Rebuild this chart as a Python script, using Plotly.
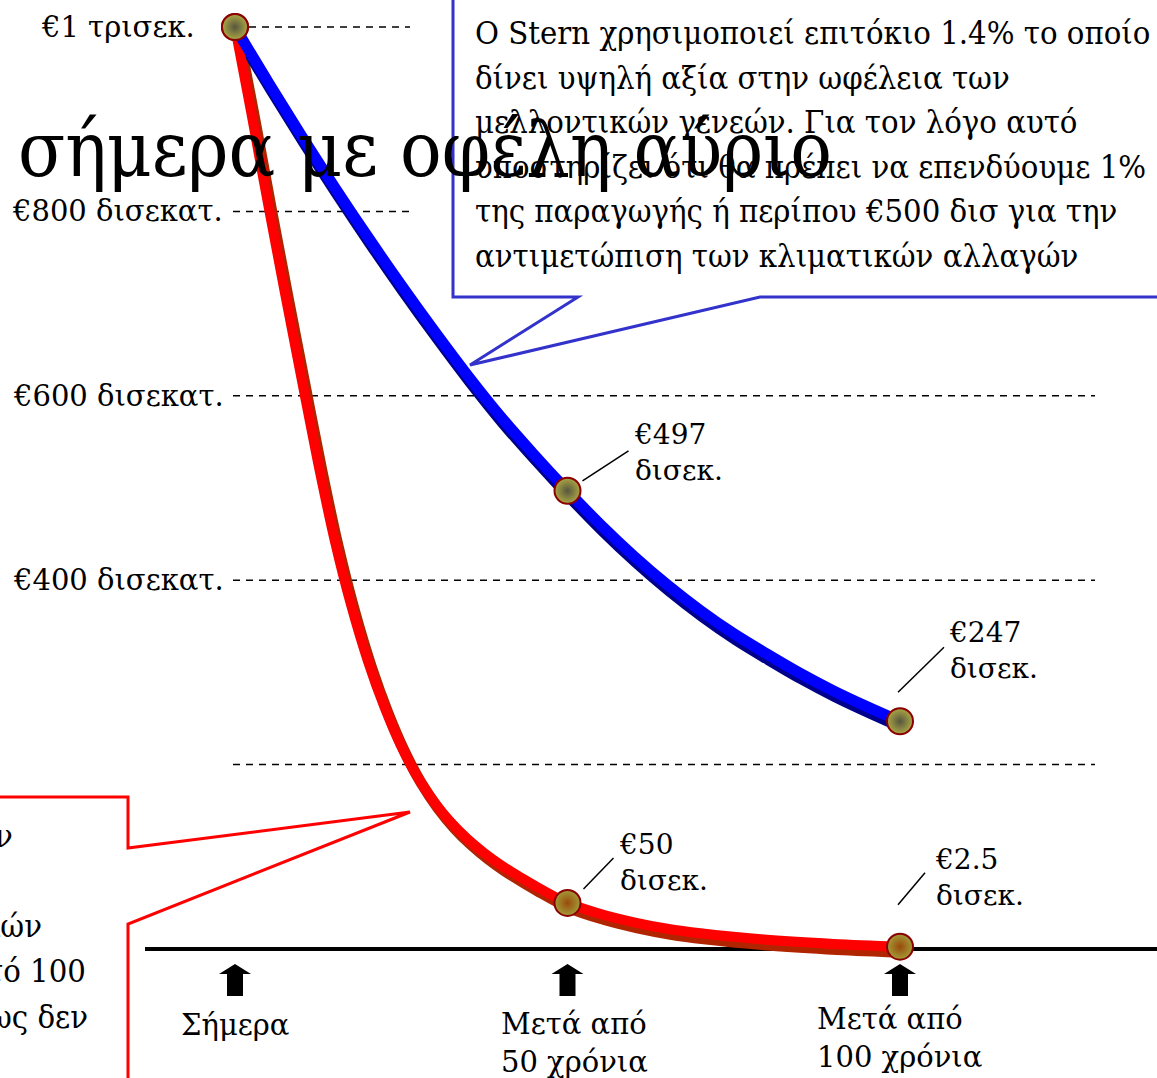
import plotly.graph_objects as go

# ---------------- DATA ----------------
years_blue = [0, 5, 10, 15, 20, 25, 30, 35, 40, 45, 50, 55, 60, 65, 70, 75, 80, 85, 90, 95, 100]
value_blue = [1000, 940, 882, 826, 772, 720, 670, 622, 577, 536, 497, 460, 426, 395, 367, 342, 320, 299, 280, 263, 247]

years_red = [0, 2.5, 5, 7.5, 10, 12.5, 15, 17.5, 20, 22.5, 25, 27.5, 30, 32.5, 35, 37.5, 40, 45, 50,
             55, 60, 65, 70, 80, 90, 100]
value_red = [1000, 905, 807, 712, 619, 527, 443, 372, 312, 262, 220, 186, 159, 137, 119, 104, 91, 69, 50,
             38, 29, 22, 17, 10, 5.5, 2.5]

point_years = [0, 50, 100]
point_blue = [1000, 497, 247]
point_red = [1000, 50, 2.5]
label_blue = ["", "€497<br>δισεκ.", "€247<br>δισεκ."]
label_red = ["", "€50<br>δισεκ.", "€2.5<br>δισεκ."]

y_tick_vals = [1000, 800, 600, 400, 200]
y_tick_text = ["€1 τρισεκ.", "€800 δισεκατ.", "€600 δισεκατ.", "€400 δισεκατ.", ""]
x_tick_vals = [0, 50, 100]
x_tick_text = ["Σήμερα", "Μετά από<br>50 χρόνια", "Μετά από<br>100 χρόνια"]

title_text = "σήμερα με οφέλη αύριο"
stern_lines = [
    "Ο Stern χρησιμοποιεί επιτόκιο 1.4% το οποίο",
    "δίνει υψηλή αξία στην ωφέλεια των",
    "μελλοντικών γενεών. Για τον λόγο αυτό",
    "υποστηρίζει ότι θα πρέπει να επενδύουμε 1%",
    "της παραγωγής ή περίπου €500 δισ για την",
    "αντιμετώπιση των κλιματικών αλλαγών",
]
red_note_lines = ["ν", "κών", "τό 100", "ως δεν"]

# ---------------- LAYOUT / STYLE ----------------
W, H = 1157, 1078
X0_PX, X_PX_PER = 235, 6.65      # pixel of year 0, pixels per year
Y0_PX, Y_PX_PER = 949, 0.922     # pixel of value 0, pixels per unit

def px(x):
    return x / W

def py(y):
    return 1 - y / H

SERIF_LABEL = "DejaVu Serif"
TIMES = "DejaVu Serif Condensed, DejaVu Serif, serif"

fig = go.Figure()

# shadows
fig.add_trace(go.Scatter(x=[t + 0.5 for t in years_red], y=[v - 6 for v in value_red],
                         mode="lines", line=dict(color="#b02400", width=11, shape="spline", smoothing=1),
                         hoverinfo="skip", showlegend=False))
fig.add_trace(go.Scatter(x=[t + 0.3 for t in years_blue], y=[v - 6 for v in value_blue],
                         mode="lines", line=dict(color="#00008c", width=12, shape="spline", smoothing=1),
                         hoverinfo="skip", showlegend=False))
# main lines
fig.add_trace(go.Scatter(x=years_red, y=value_red, mode="lines",
                         line=dict(color="#ff0000", width=10, shape="spline", smoothing=1),
                         hoverinfo="skip", showlegend=False))
fig.add_trace(go.Scatter(x=years_blue, y=value_blue, mode="lines",
                         line=dict(color="#0000ff", width=11, shape="spline", smoothing=1),
                         hoverinfo="skip", showlegend=False))
# markers
fig.add_trace(go.Scatter(x=point_years, y=point_red, mode="markers",
                         marker=dict(size=26, color="#a29c38",
                                     gradient=dict(type="radial", color="#9a4a0c"),
                                     line=dict(color="#8b0000", width=2)),
                         hoverinfo="skip", showlegend=False))
fig.add_trace(go.Scatter(x=point_years, y=point_blue, mode="markers",
                         marker=dict(size=26, color="#aca644",
                                     gradient=dict(type="radial", color="#56563e"),
                                     line=dict(color="#8b0000", width=2)),
                         hoverinfo="skip", showlegend=False))

shapes = []
annotations = []

# dashed guide lines + value labels
grid_start_px = [249, 233, 233, 233, 233]
grid_end_px = [410, 410, 1095, 1095, 1095]
label_right_px = [197, 225, 226, 226, 226]
for v, t, gs, ge, lr in zip(y_tick_vals, y_tick_text, grid_start_px, grid_end_px, label_right_px):
    shapes.append(dict(type="line", xref="paper", yref="y", x0=px(gs), x1=px(ge), y0=v, y1=v,
                       line=dict(color="black", width=1.5, dash="7px,6px"), layer="below"))
    if t:
        annotations.append(dict(xref="paper", yref="y", x=px(lr), y=v, text=t, showarrow=False,
                                xanchor="right", yanchor="middle",
                                font=dict(family=SERIF_LABEL, size=29, color="black")))

# baseline
shapes.append(dict(type="line", xref="paper", yref="y", x0=px(145), x1=1, y0=0, y1=0,
                   line=dict(color="black", width=4), layer="below"))

# tick arrows and labels
arrow_path = "M 0,-15 L 16,-25 L 8,-25 L 8,-47 L -8,-47 L -8,-25 L -16,-25 Z"
tick_xshift = [0, -69, -85]
tick_yshift = [-76, -94, -89]
tick_anchor = ["center", "left", "left"]
for xv, txt, xs, ys, an in zip(x_tick_vals, x_tick_text, tick_xshift, tick_yshift, tick_anchor):
    shapes.append(dict(type="path", xref="x", yref="y", xsizemode="pixel", ysizemode="pixel",
                       xanchor=xv, yanchor=0, path=arrow_path, fillcolor="black",
                       line=dict(width=0)))
    annotations.append(dict(xref="x", yref="y", x=xv, y=0, text=txt, showarrow=False,
                            xanchor=an, yanchor="middle", align="left", xshift=xs, yshift=ys,
                            font=dict(family=SERIF_LABEL, size=29, color="black")))

# point labels with leader lines
lab_xshift_blue = [0, 64, 47]
lab_yshift_blue = [0, 38, 71]
lead_blue = [None, (15, 10, 61, 40), (-2, 29, 44, 74)]
lab_xshift_red = [0, 49, 33]
lab_yshift_red = [0, 40, 69]
lead_red = [None, (16, 14, 46, 45), (-2, 42, 25, 74)]
for xs_l, ys_l, leads, vals, labs in [(lab_xshift_blue, lab_yshift_blue, lead_blue, point_blue, label_blue),
                                      (lab_xshift_red, lab_yshift_red, lead_red, point_red, label_red)]:
    for xv, v, lab, xs, ys, ld in zip(point_years, vals, labs, xs_l, ys_l, leads):
        if not lab:
            continue
        annotations.append(dict(xref="x", yref="y", x=xv, y=v, text=lab, showarrow=False,
                                xanchor="left", yanchor="middle", align="left", xshift=xs, yshift=ys,
                                font=dict(family=SERIF_LABEL, size=28, color="black")))
        shapes.append(dict(type="line", xref="x", yref="y", xsizemode="pixel", ysizemode="pixel",
                           xanchor=xv, yanchor=v, x0=ld[0], y0=ld[1], x1=ld[2], y1=ld[3],
                           line=dict(color="black", width=1.5)))

# Stern callout (blue)
blue_box = [(453, -10), (453, 297), (578, 297), (470, 365), (760, 297), (1170, 297)]
shapes.append(dict(type="path", xref="paper", yref="paper",
                   path="M " + " L ".join(f"{px(a):.5f},{py(b):.5f}" for a, b in blue_box),
                   line=dict(color="#3333cc", width=3), fillcolor="rgba(0,0,0,0)"))
for i, line in enumerate(stern_lines):
    annotations.append(dict(xref="paper", yref="paper", x=px(473), y=py(33 + 44.6 * i), text=line,
                            showarrow=False, xanchor="left", yanchor="middle", align="left",
                            font=dict(family=TIMES, size=32.5, color="black")))

# red callout (cut at left edge)
red_box = [(-10, 797), (128, 797), (128, 848), (410, 812), (128, 924), (128, 1090)]
shapes.append(dict(type="path", xref="paper", yref="paper",
                   path="M " + " L ".join(f"{px(a):.5f},{py(b):.5f}" for a, b in red_box),
                   line=dict(color="#ff0000", width=3), fillcolor="rgba(0,0,0,0)"))
red_right_px = [15, 44, 88, 90]
red_center_px = [836, 926, 971, 1017]
for txt, rx, cy in zip(red_note_lines, red_right_px, red_center_px):
    annotations.append(dict(xref="paper", yref="paper", x=px(rx), y=py(cy), text=txt, showarrow=False,
                            xanchor="right", yanchor="middle",
                            font=dict(family=TIMES, size=32.5, color="black")))

# big title text
annotations.append(dict(xref="paper", yref="paper", x=px(16), y=py(150), text=title_text,
                        showarrow=False, xanchor="left", yanchor="middle",
                        font=dict(family=TIMES, size=77, color="black")))

fig.update_layout(
    width=W, height=H,
    margin=dict(l=0, r=0, t=0, b=0),
    paper_bgcolor="white", plot_bgcolor="white",
    xaxis=dict(range=[(0 - X0_PX) / X_PX_PER, (W - X0_PX) / X_PX_PER], visible=False),
    yaxis=dict(range=[(Y0_PX - H) / Y_PX_PER, Y0_PX / Y_PX_PER], visible=False),
    shapes=shapes, annotations=annotations,
    showlegend=False,
)

fig.write_html("out.html", config={"displayModeBar": False},
               post_script="document.body.style.margin='0';")
